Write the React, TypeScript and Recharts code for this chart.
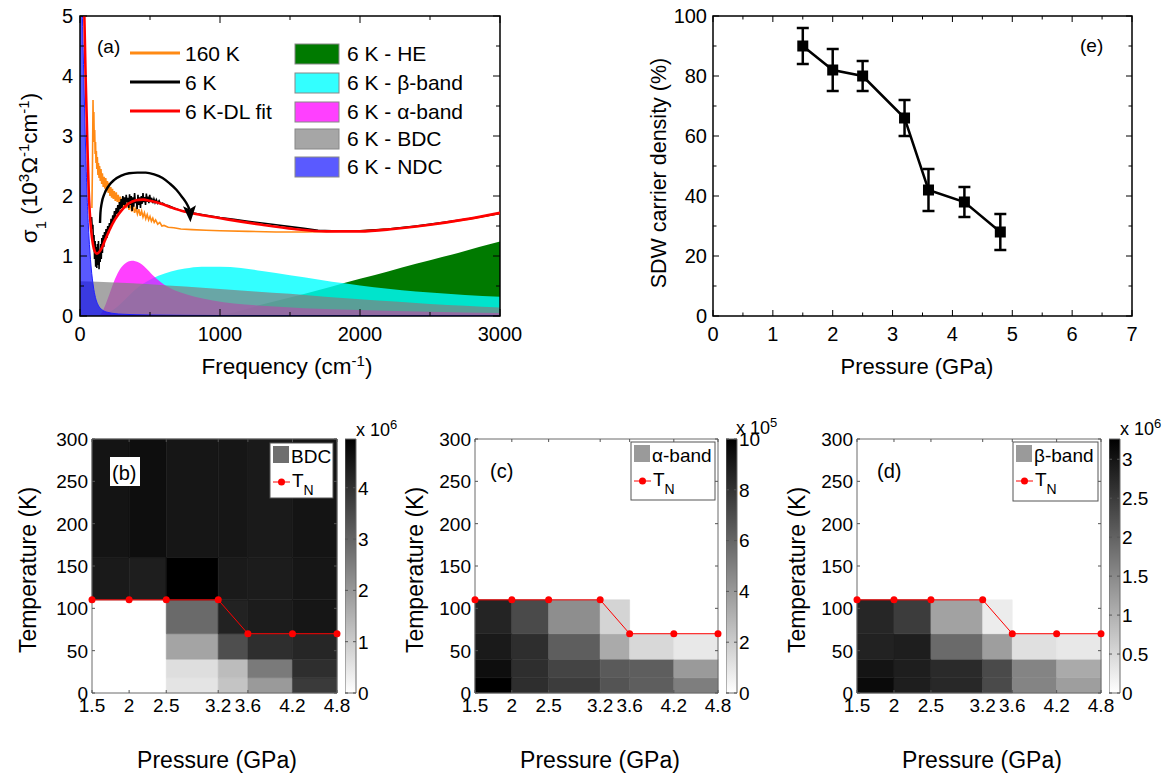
import React from 'react';
import { ComposedChart, Line, Area, XAxis, YAxis, ReferenceArea, ErrorBar } from 'recharts';

const FONT = '"Liberation Sans", Arial, sans-serif';

// ---------- panel (a): sigma1 (10^3 / Ohm cm) vs frequency (cm^-1)
const sigma160K: [number, number][] = [
  [85, 1.8], [89, 2.5], [93, 3.6], [96, 3.0], [99, 3.4], [102, 2.9], [105, 3.1], [108, 2.7], [111, 2.9],
  [114, 2.55], [117, 2.75], [120, 2.45], [124, 2.65], [128, 2.35], [132, 2.55], [136, 2.3], [140, 2.5],
  [145, 2.25], [150, 2.45], [155, 2.2], [160, 2.38], [166, 2.15], [172, 2.32], [178, 2.12], [184, 2.3],
  [190, 2.08], [196, 2.25], [202, 2.05], [208, 2.22], [214, 2.0], [220, 2.15], [226, 1.97], [232, 2.12],
  [238, 1.95], [245, 2.08], [252, 1.92], [259, 2.06], [266, 1.9], [273, 2.02], [280, 1.88], [288, 1.99],
  [296, 1.85], [304, 1.96], [312, 1.82], [320, 1.93], [330, 1.8], [340, 1.9], [350, 1.77], [360, 1.87],
  [370, 1.74], [380, 1.84], [390, 1.72], [400, 1.8], [410, 1.7], [420, 1.78], [430, 1.67], [440, 1.75],
  [450, 1.65], [460, 1.72], [470, 1.62], [480, 1.69], [490, 1.6], [500, 1.66], [510, 1.58], [520, 1.63],
  [530, 1.56], [540, 1.6], [555, 1.53], [570, 1.56], [585, 1.5], [600, 1.51], [630, 1.48], [670, 1.47],
  [720, 1.45], [800, 1.44], [900, 1.43], [1000, 1.42], [1200, 1.41], [1400, 1.4], [1600, 1.4], [1800, 1.41],
  [2000, 1.42], [2200, 1.45], [2400, 1.49], [2600, 1.55], [2800, 1.62], [3000, 1.71],
];
const sigma6K: [number, number][] = [
  [83, 1.65], [88, 1.45], [92, 1.52], [96, 1.2], [100, 1.35], [104, 0.95], [108, 1.25], [112, 0.82],
  [116, 1.15], [120, 0.8], [124, 1.2], [128, 0.85], [132, 1.25], [136, 0.78], [140, 1.1], [144, 0.9],
  [148, 1.2], [152, 0.95], [156, 1.3], [160, 1.05], [165, 1.35], [170, 1.15], [175, 1.4], [180, 1.25],
  [186, 1.45], [192, 1.3], [198, 1.5], [204, 1.38], [210, 1.55], [216, 1.45], [222, 1.62], [228, 1.5],
  [234, 1.68], [240, 1.58], [246, 1.75], [252, 1.62], [258, 1.8], [264, 1.7], [270, 1.85], [276, 1.72],
  [282, 1.9], [288, 1.78], [294, 1.95], [300, 1.8], [306, 2.0], [312, 1.85], [318, 1.98], [324, 1.82],
  [330, 2.02], [336, 1.9], [342, 1.97], [348, 1.8], [354, 2.03], [360, 1.85], [366, 2.0], [372, 1.75],
  [378, 1.98], [384, 1.82], [390, 2.05], [396, 1.88], [402, 1.95], [408, 1.78], [414, 2.02], [420, 1.85],
  [426, 1.98], [432, 1.8], [438, 2.0], [444, 1.87], [450, 2.05], [456, 1.9], [462, 1.98], [468, 1.85],
  [474, 2.04], [480, 1.9], [486, 1.99], [492, 1.88], [498, 2.02], [505, 1.9], [512, 1.97], [520, 1.88],
  [528, 1.95], [536, 1.89], [545, 1.94], [555, 1.88], [565, 1.92], [575, 1.87], [590, 1.88], [610, 1.85],
  [630, 1.84], [650, 1.82], [680, 1.79], [720, 1.76], [760, 1.73], [800, 1.72], [900, 1.68], [1000, 1.64],
  [1100, 1.61], [1200, 1.58], [1300, 1.55], [1400, 1.52], [1500, 1.49], [1600, 1.46], [1700, 1.43],
  [1800, 1.42], [1900, 1.42], [2000, 1.42], [2200, 1.45], [2400, 1.5], [2600, 1.56], [2800, 1.63], [3000, 1.71],
];
const fit6K: [number, number][] = [
  [10, 8], [20, 6.6], [31, 5.0], [40, 4.0], [48, 3.3], [55, 2.65], [62, 2.1], [70, 1.72], [80, 1.42],
  [92, 1.2], [105, 1.08], [120, 1.04], [135, 1.06], [155, 1.13], [180, 1.27], [210, 1.43], [250, 1.61],
  [300, 1.77], [345, 1.87], [400, 1.93], [450, 1.94], [500, 1.92], [580, 1.87], [650, 1.81], [730, 1.75],
  [810, 1.71], [900, 1.67], [1050, 1.61], [1300, 1.52], [1530, 1.45], [1760, 1.41], [2000, 1.41],
  [2240, 1.45], [2500, 1.52], [2750, 1.61], [3000, 1.72],
];
const heBand: [number, number][] = [
  [950, 0], [1100, 0.06], [1300, 0.19], [1500, 0.31], [1700, 0.43], [1900, 0.56], [2100, 0.68],
  [2300, 0.81], [2500, 0.93], [2700, 1.05], [2850, 1.15], [3000, 1.24],
];
const betaBand: [number, number][] = [
  [150, 0], [200, 0.05], [260, 0.14], [320, 0.27], [400, 0.45], [480, 0.58], [560, 0.67], [650, 0.74],
  [750, 0.79], [870, 0.82], [1000, 0.82], [1150, 0.8], [1300, 0.75], [1500, 0.68], [1700, 0.61],
  [1900, 0.54], [2100, 0.48], [2300, 0.43], [2500, 0.39], [2750, 0.35], [3000, 0.32],
];
const alphaBand: [number, number][] = [
  [140, 0], [170, 0.12], [200, 0.3], [240, 0.56], [280, 0.76], [320, 0.87], [370, 0.92], [420, 0.89],
  [470, 0.8], [520, 0.68], [580, 0.56], [640, 0.47], [720, 0.39], [820, 0.32], [950, 0.26], [1100, 0.21],
  [1300, 0.17], [1600, 0.13], [2000, 0.1], [2500, 0.07], [3000, 0.05],
];
const bdcBand: [number, number][] = [
  [0, 0.58], [250, 0.56], [500, 0.53], [750, 0.49], [1000, 0.45], [1250, 0.41], [1500, 0.37], [1750, 0.32],
  [2000, 0.28], [2250, 0.24], [2500, 0.2], [2750, 0.17], [3000, 0.14],
];
const ndcBand: [number, number][] = [
  [0, 6.2], [10, 5.7], [20, 4.7], [30, 3.7], [40, 2.8], [50, 2.05], [60, 1.5], [70, 1.1], [80, 0.8],
  [95, 0.5], [110, 0.31], [130, 0.18], [160, 0.1], [200, 0.06], [300, 0.03], [500, 0.016], [1000, 0.008],
  [2000, 0.004], [3000, 0.003],
];
const arrowArc: [number, number][] = [
  [143, 1.55], [146, 1.72], [155, 1.88], [175, 2.04], [205, 2.17], [245, 2.27], [295, 2.34], [350, 2.38],
  [410, 2.39], [470, 2.39], [530, 2.36], [590, 2.3], [640, 2.21], [690, 2.1], [730, 1.98], [760, 1.88], [782, 1.78],
];
const freqTicks = [0, 500, 1000, 1500, 2000, 2500, 3000];
const sigmaTicks = [0, 0.5, 1, 1.5, 2, 2.5, 3, 3.5, 4, 4.5, 5];

// ---------- panel (e)
const pressureE = [1.5, 2, 2.5, 3.2, 3.6, 4.2, 4.8];
const sdwDensity = [90, 82, 80, 66, 42, 38, 28];
const sdwError = [6, 7, 5, 6, 7, 5, 6];
const pressureTicksE = [0, 0.5, 1, 1.5, 2, 2.5, 3, 3.5, 4, 4.5, 5, 5.5, 6, 6.5, 7];
const densityTicks = [0, 10, 20, 30, 40, 50, 60, 70, 80, 90, 100];

// ---------- panels (b)-(d): cells between these edges, rows from 0 K upward
const pressureEdges = [1.5, 2, 2.5, 3.2, 3.6, 4.2, 4.8];
const tempEdges = [0, 18, 40, 70, 110, 160, 300];
const tN = [110, 110, 110, 110, 70, 70, 70];
const tempTicks = [0, 50, 100, 150, 200, 250, 300];

const bdcCells: (number | null)[][] = [
  [0, 0, 0.52, 1.15, 1.96, 3.82],
  [0, 0, 0.64, 1.3, 2.58, 4.06],
  [0, 0, 1.77, 3.44, 4.06, 4.21],
  [0, 0, 2.89, 4.29, 4.41, 4.52],
  [4.45, 4.37, 4.95, 4.45, 4.41, 4.52],
  [4.56, 4.68, 4.52, 4.52, 4.45, 4.56],
];
const alphaCells: (number | null)[][] = [
  [10, 8.2, 7.65, 6.7, 6.3, 5.06],
  [9.45, 8.2, 7.33, 6.47, 6.3, 3.96],
  [8.98, 8.2, 6.3, 3.33, 1.53, 0.9],
  [8.59, 7.1, 4.43, 1.69, null, null],
];
const betaCells: (number | null)[][] = [
  [3.13, 2.88, 2.75, 2.31, 1.57, 1.24],
  [3.0, 2.88, 2.72, 2.31, 1.57, 1.09],
  [2.83, 2.88, 1.9, 1.24, 0.4, 0.29],
  [2.77, 2.49, 1.19, 0.24, null, null],
];

const pts = (a: [number, number][]) => a.map(([f, v]) => ({ f, v }));
const gray = (v: number, max: number) => {
  const g = Math.round(255 * (1 - Math.min(v / max, 1)));
  return `rgb(${g},${g},${g})`;
};

interface TickCfg {
  side: 'bottom' | 'left' | 'right';
  span: number;
  len: number;
  minor?: number;
  major?: (v: number) => boolean;
  font: number;
  gap: number;
  color?: string;
}

// inward ticks on both sides of the box, label outside
const makeTick = (c: TickCfg) => (props: any) => {
  const { x, y, payload } = props;
  const v = payload.value as number;
  const isMajor = c.major ? c.major(v) : true;
  const L = isMajor ? c.len : c.minor ?? c.len;
  const col = c.color ?? '#000';
  const label = isMajor ? String(v) : null;
  if (c.side === 'bottom') {
    return (
      <g>
        <line x1={x} y1={y} x2={x} y2={y - L} stroke={col} />
        <line x1={x} y1={y - c.span} x2={x} y2={y - c.span + L} stroke={col} />
        {label && <text x={x} y={y + c.gap} textAnchor="middle" fontSize={c.font} fontFamily={FONT} fill="#000">{label}</text>}
      </g>
    );
  }
  if (c.side === 'left') {
    return (
      <g>
        <line x1={x} y1={y} x2={x + L} y2={y} stroke={col} />
        <line x1={x + c.span} y1={y} x2={x + c.span - L} y2={y} stroke={col} />
        {label && <text x={x - c.gap} y={y + c.font * 0.36} textAnchor="end" fontSize={c.font} fontFamily={FONT} fill="#000">{label}</text>}
      </g>
    );
  }
  return (
    <g>
      <line x1={x} y1={y} x2={x - L} y2={y} stroke={col} />
      <line x1={x - c.span} y1={y} x2={x - c.span + L} y2={y} stroke={col} />
      {label && <text x={x + c.gap} y={y + c.font * 0.36} textAnchor="start" fontSize={c.font} fontFamily={FONT} fill="#000">{label}</text>}
    </g>
  );
};

function ConductivityPanel() {
  const arrowDot = (p: any) => {
    if (p.index !== arrowArc.length - 1) return <g key={p.index} />;
    const { cx, cy } = p;
    return <path key={p.index} d={`M${cx - 6.5},${cy - 3} L${cx + 1},${cy + 13} L${cx + 6.5},${cy - 4} L${cx},${cy} Z`} fill="#000" />;
  };
  return (
    <div style={{ position: 'absolute', left: 0, top: 6 }}>
      <ComposedChart width={540} height={370} margin={{ top: 10, right: 40, bottom: 0, left: 0 }}>
        <XAxis dataKey="f" type="number" domain={[0, 3000]} allowDataOverflow ticks={freqTicks} interval={0}
          height={60} tickSize={0} tickMargin={0} axisLine={false}
          tick={makeTick({ side: 'bottom', span: 300, len: 7, minor: 4, major: (v) => v % 1000 === 0, font: 20, gap: 25 })} />
        <YAxis type="number" domain={[0, 5]} allowDataOverflow ticks={sigmaTicks} interval={0}
          width={80} tickSize={0} tickMargin={0} axisLine={false}
          tick={makeTick({ side: 'left', span: 420, len: 7, minor: 4, major: (v) => Number.isInteger(v), font: 20, gap: 7 })} />
        <Area data={pts(heBand)} dataKey="v" type="monotone" fill="#007a00" fillOpacity={1} stroke="none" isAnimationActive={false} />
        <Area data={pts(betaBand)} dataKey="v" type="monotone" fill="#00ffff" fillOpacity={0.8} stroke="none" isAnimationActive={false} />
        <Area data={pts(alphaBand)} dataKey="v" type="monotone" fill="#ff00ff" fillOpacity={0.75} stroke="none" isAnimationActive={false} />
        <Area data={pts(bdcBand)} dataKey="v" type="monotone" fill="#808080" fillOpacity={0.7} stroke="none" isAnimationActive={false} />
        <Area data={pts(ndcBand)} dataKey="v" type="monotone" fill="#0000ff" fillOpacity={0.65} stroke="#2020ff" strokeWidth={1} isAnimationActive={false} />
        <Line data={pts(sigma160K)} dataKey="v" type="linear" stroke="#ff8a14" strokeWidth={1.6} dot={false} isAnimationActive={false} />
        <Line data={pts(sigma6K)} dataKey="v" type="linear" stroke="#000" strokeWidth={1.6} dot={false} isAnimationActive={false} />
        <Line data={pts(fit6K)} dataKey="v" type="monotone" stroke="#ff0000" strokeWidth={2.6} dot={false} isAnimationActive={false} />
        <Line data={pts(arrowArc)} dataKey="v" type="monotone" stroke="#000" strokeWidth={2.4} dot={arrowDot} isAnimationActive={false} />
        <ReferenceArea x1={0} x2={3000} y1={0} y2={5} fill="none" stroke="#000" strokeWidth={1.5} ifOverflow="visible" />
      </ComposedChart>
    </div>
  );
}

function DensityPanel() {
  const data = pressureE.map((p, i) => ({ p, d: sdwDensity[i], err: sdwError[i] }));
  const square = (p: any) => <rect key={p.index} x={p.cx - 5.5} y={p.cy - 5.5} width={11} height={11} fill="#000" />;
  return (
    <div style={{ position: 'absolute', left: 643, top: 6 }}>
      <ComposedChart width={509} height={370} data={data} margin={{ top: 10, right: 20, bottom: 0, left: 0 }}>
        <XAxis dataKey="p" type="number" domain={[0, 7]} ticks={pressureTicksE} interval={0}
          height={60} tickSize={0} tickMargin={0} axisLine={false}
          tick={makeTick({ side: 'bottom', span: 300, len: 6, minor: 3.5, major: (v) => Number.isInteger(v), font: 20, gap: 25 })} />
        <YAxis type="number" domain={[0, 100]} ticks={densityTicks} interval={0}
          width={70} tickSize={0} tickMargin={0} axisLine={false}
          tick={makeTick({ side: 'left', span: 419, len: 6, minor: 3.5, major: (v) => v % 20 === 0, font: 20, gap: 6 })} />
        <ReferenceArea x1={0} x2={7} y1={0} y2={100} fill="none" stroke="#000" strokeWidth={1.5} ifOverflow="visible" />
        <Line dataKey="d" stroke="#000" strokeWidth={2.5} dot={square} isAnimationActive={false}>
          <ErrorBar dataKey="err" width={6} strokeWidth={2.5} stroke="#000" direction="y" />
        </Line>
      </ComposedChart>
    </div>
  );
}

function HeatPanel({ x0, plotW, cells, vmax }: { x0: number; plotW: number; cells: (number | null)[][]; vmax: number }) {
  const tnData = pressureEdges.map((p, i) => ({ p, t: tN[i] }));
  return (
    <div style={{ position: 'absolute', left: x0 - 60, top: 429 }}>
      <ComposedChart width={60 + plotW + 22} height={304} data={tnData} margin={{ top: 10, right: 22, bottom: 0, left: 0 }}>
        <XAxis dataKey="p" type="number" domain={[1.5, 4.8]} ticks={pressureEdges} interval={0}
          height={40} tickSize={0} tickMargin={0} axisLine={false}
          tick={makeTick({ side: 'bottom', span: 254, len: 3, font: 19, gap: 19, color: '#555' })} />
        <YAxis type="number" domain={[0, 300]} ticks={tempTicks} interval={0}
          width={60} tickSize={0} tickMargin={0} axisLine={false}
          tick={makeTick({ side: 'left', span: plotW, len: 3, font: 19, gap: 4, color: '#555' })} />
        {cells.flatMap((row, r) =>
          row.map((v, c) =>
            v === null ? null : (
              <ReferenceArea key={`${r}-${c}`} x1={pressureEdges[c]} x2={pressureEdges[c + 1]} y1={tempEdges[r]} y2={tempEdges[r + 1]}
                fill={gray(v, vmax)} fillOpacity={1} stroke={gray(v, vmax)} strokeWidth={0.6} ifOverflow="visible" />
            ),
          ),
        )}
        <ReferenceArea x1={1.5} x2={4.8} y1={0} y2={300} fill="none" stroke="#6b6b6b" strokeWidth={1} ifOverflow="visible" />
        <Line dataKey="t" type="linear" stroke="#ff0000" strokeWidth={1}
          dot={{ r: 3.5, fill: '#ff0000', stroke: '#ff0000', strokeWidth: 0 }} isAnimationActive={false} />
      </ComposedChart>
    </div>
  );
}

function ColorBar({ x0, vmax, ticks, id }: { x0: number; vmax: number; ticks: number[]; id: string }) {
  // the bar is one area spanning the full scale, shaded by a white-to-black gradient
  const level = [{ c: 0, v: vmax }, { c: 1, v: vmax }];
  return (
    <div style={{ position: 'absolute', left: x0, top: 429 }}>
      <ComposedChart width={56} height={274} data={level} margin={{ top: 10, right: 0, bottom: 10, left: 0 }}>
        <XAxis dataKey="c" type="number" domain={[0, 1]} hide />
        <YAxis orientation="right" type="number" domain={[0, vmax]} ticks={ticks} interval={0}
          width={45} tickSize={0} tickMargin={0} axisLine={false}
          tick={makeTick({ side: 'right', span: 11, len: 3, font: 19, gap: 2, color: '#555' })} />
        <Area dataKey="v" type="linear" fill={`url(#${id})`} fillOpacity={1} stroke="none" isAnimationActive={false} />
        <ReferenceArea x1={0} x2={1} y1={0} y2={vmax} fill="none" stroke="#6b6b6b" strokeWidth={1} ifOverflow="visible" />
      </ComposedChart>
    </div>
  );
}

function HeatLegend({ x, y, w, h, label, swatch }: { x: number; y: number; w: number; h: number; label: string; swatch: string }) {
  return (
    <g>
      <rect x={x} y={y} width={w} height={h} fill="#fff" stroke="#555" strokeWidth={1} />
      <rect x={x + 3} y={y + 3} width={16} height={17} fill={swatch} />
      <text x={x + 21} y={y + 20} fontSize={19}>{label}</text>
      <line x1={x + 3} x2={x + 20} y1={y + 39} y2={y + 39} stroke="#ff0000" strokeWidth={1} />
      <circle cx={x + 11.5} cy={y + 39} r={3.5} fill="#ff0000" />
      <text x={x + 22} y={y + 44} fontSize={19}>T<tspan baselineShift="sub" fontSize={14}>N</tspan></text>
    </g>
  );
}

function Overlay() {
  const legendA = [
    { label: '6 K - HE', color: '#007a00' },
    { label: '6 K - \u03b2-band', color: '#33ffff' },
    { label: '6 K - \u03b1-band', color: '#ff40ff' },
    { label: '6 K - BDC', color: '#a6a6a6' },
    { label: '6 K - NDC', color: '#5a5aff' },
  ];
  const boxY = [44, 73, 102, 129, 157];
  const linesA = [
    { label: '160 K', color: '#ff8a14', y: 53 },
    { label: '6 K', color: '#000', y: 82 },
    { label: '6 K-DL fit', color: '#ff0000', y: 111 },
  ];
  const sup = (t: string, s = 15) => <tspan baselineShift="super" fontSize={s}>{t}</tspan>;
  return (
    <svg width={1170} height={774} style={{ position: 'absolute', left: 0, top: 0, pointerEvents: 'none' }} fontFamily={FONT}>
      <defs>
        {['cbB', 'cbC', 'cbD'].map((id) => (
          <linearGradient key={id} id={id} x1="0" y1="1" x2="0" y2="0">
            <stop offset="0" stopColor="#ffffff" />
            <stop offset="1" stopColor="#000000" />
          </linearGradient>
        ))}
      </defs>
      {/* panel (a) */}
      <text x={97} y={53} fontSize={19}>(a)</text>
      {linesA.map((l) => (
        <g key={l.label}>
          <line x1={130} x2={180} y1={l.y} y2={l.y} stroke={l.color} strokeWidth={3} />
          <text x={185} y={l.y + 8} fontSize={21}>{l.label}</text>
        </g>
      ))}
      {legendA.map((l, i) => (
        <g key={l.label}>
          <rect x={295} y={boxY[i]} width={44} height={20} fill={l.color} stroke="#888" strokeWidth={1} />
          <text x={347} y={boxY[i] + 17} fontSize={21}>{l.label}</text>
        </g>
      ))}
      <text transform="translate(37,168) rotate(-90)" textAnchor="middle" fontSize={22.5}>
        σ<tspan baselineShift="sub" fontSize={15}>1</tspan> (10{sup('3')}Ω{sup('-1')}cm{sup('-1')})
      </text>
      <text x={287} y={374} textAnchor="middle" fontSize={22.5}>Frequency (cm{sup('-1')})</text>

      {/* panel (e) */}
      <text x={1080} y={52} fontSize={19}>(e)</text>
      <text transform="translate(666,173) rotate(-90)" textAnchor="middle" fontSize={21.5}>SDW carrier density (%)</text>
      <text x={917} y={374} textAnchor="middle" fontSize={22}>Pressure (GPa)</text>

      {/* panels (b)-(d) */}
      {[36, 423, 805].map((x) => (
        <text key={x} transform={`translate(${x},570) rotate(-90)`} textAnchor="middle" fontSize={23}>Temperature (K)</text>
      ))}
      {[217, 600, 982].map((x) => (
        <text key={x} x={x} y={768} textAnchor="middle" fontSize={23}>Pressure (GPa)</text>
      ))}
      <rect x={110} y={457} width={30} height={29} fill="#fff" />
      <text x={112} y={480} fontSize={20}>(b)</text>
      <text x={490} y={478} fontSize={20}>(c)</text>
      <text x={877} y={478} fontSize={20}>(d)</text>
      <HeatLegend x={270} y={443} w={63} h={55} label="BDC" swatch="#6e6e6e" />
      <HeatLegend x={631} y={442} w={84} h={58} label="α-band" swatch="#9a9a9a" />
      <HeatLegend x={1013} y={442} w={85} h={59} label="β-band" swatch="#9a9a9a" />
      <text x={356} y={436} fontSize={18}>x 10{sup('6', 13)}</text>
      <text x={736} y={434} fontSize={18}>x 10{sup('5', 13)}</text>
      <text x={1120} y={435} fontSize={18}>x 10{sup('6', 13)}</text>
    </svg>
  );
}

export default function App() {
  return (
    <div style={{ position: 'absolute', left: 0, top: 0, width: 1170, height: 774, background: '#fff', fontFamily: FONT }}>
      <ConductivityPanel />
      <DensityPanel />
      <HeatPanel x0={92} plotW={245} cells={bdcCells} vmax={4.95} />
      <HeatPanel x0={475} plotW={243} cells={alphaCells} vmax={10} />
      <HeatPanel x0={857} plotW={244} cells={betaCells} vmax={3.26} />
      <ColorBar x0={345} vmax={4.95} ticks={[0, 1, 2, 3, 4]} id="cbB" />
      <ColorBar x0={726} vmax={10} ticks={[0, 2, 4, 6, 8, 10]} id="cbC" />
      <ColorBar x0={1109} vmax={3.26} ticks={[0, 0.5, 1, 1.5, 2, 2.5, 3]} id="cbD" />
      <Overlay />
    </div>
  );
}
